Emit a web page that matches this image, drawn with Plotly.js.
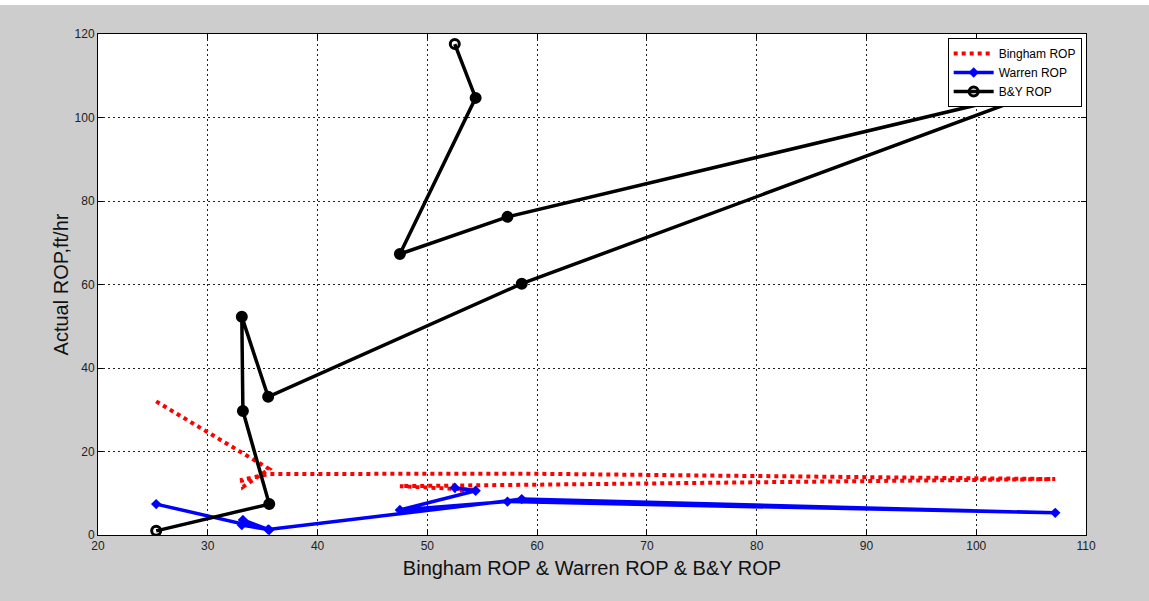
<!DOCTYPE html>
<html>
<head>
<meta charset="utf-8">
<script src="https://cdn.plot.ly/plotly-3.0.1.min.js"></script>
<style>
  html, body { margin: 0; padding: 0; background: #cdcdcd; }
  #chart { width: 1149px; height: 601px; }
</style>
</head>
<body>
<div id="chart"></div>
<script>
// Predicted ROP (shared abscissa) for each run, in plotting order
const predictedROP = [25.3, 35.6, 33.2, 33.1, 35.5, 58.6, 107.2, 57.3, 47.5, 54.4, 52.5];

// Model ROP values, ft/hr
const binghamROP = [32.0, 15.8, 11.5, 13.2, 14.6, 14.7, 13.4, 11.8, 11.7, 10.8, 10.6];
const warrenROP  = [7.4, 1.2, 3.6, 2.4, 1.3, 8.6, 5.3, 8.0, 6.0, 10.6, 11.3];
const byROP      = [1.0, 7.4, 29.7, 52.3, 33.1, 60.2, 107.5, 76.2, 67.3, 104.7, 117.6];

// Axis ticks
const xTicks = [20, 30, 40, 50, 60, 70, 80, 90, 100, 110];
const yTicks = [0, 20, 40, 60, 80, 100, 120];

// End points of the B&Y path are drawn as rings, interior points as dots
const bySymbols = byROP.map((v, i) => (i === 0 || i === byROP.length - 1) ? 'circle-open' : 'circle');

const traces = [
  {
    x: predictedROP, y: binghamROP, name: 'Bingham ROP',
    mode: 'lines', type: 'scatter',
    line: { color: '#ff0000', width: 4, dash: '4px,4px' }
  },
  {
    x: predictedROP, y: warrenROP, name: 'Warren ROP',
    mode: 'lines+markers', type: 'scatter',
    line: { color: '#0000ff', width: 3.5 },
    marker: { symbol: 'diamond', size: 8, color: '#0000ff' }
  },
  {
    x: predictedROP, y: byROP, name: 'B&Y ROP',
    mode: 'lines+markers', type: 'scatter',
    line: { color: '#000000', width: 3.5 },
    marker: { symbol: bySymbols, size: 9, color: '#000000', line: { width: 3, color: '#000000' } }
  }
];

const axisCommon = {
  showline: true, linecolor: '#000000', linewidth: 1, mirror: 'ticks',
  ticks: 'inside', ticklen: 5, tickcolor: '#000000',
  showgrid: true, gridcolor: '#222222', gridwidth: 1, griddash: '2px,3px',
  zeroline: false,
  tickfont: { family: 'Liberation Sans, Arial, sans-serif', size: 12, color: '#222222' }
};

const layout = {
  width: 1149, height: 601,
  paper_bgcolor: '#cdcdcd', plot_bgcolor: '#ffffff',
  margin: { l: 98, r: 63, t: 34, b: 66 },
  showlegend: true,
  xaxis: Object.assign({}, axisCommon, {
    range: [20, 110], tickmode: 'array', tickvals: xTicks, ticktext: xTicks.map(String),
    title: { text: 'Bingham ROP & Warren ROP & B&Y ROP', standoff: 8,
             font: { family: 'Liberation Sans, Arial, sans-serif', size: 20, color: '#111111' } }
  }),
  yaxis: Object.assign({}, axisCommon, {
    range: [0, 120], tickmode: 'array', tickvals: yTicks, ticktext: yTicks.map(String),
    title: { text: 'Actual ROP,ft/hr', standoff: 0,
             font: { family: 'Liberation Sans, Arial, sans-serif', size: 20, color: '#111111' } }
  }),
  legend: {
    x: 0.860, y: 0.992, xanchor: 'left', yanchor: 'top',
    bgcolor: '#ffffff', bordercolor: '#000000', borderwidth: 1,
    font: { family: 'Liberation Sans, Arial, sans-serif', size: 12, color: '#000000' },
    itemwidth: 40, tracegroupgap: 0
  },
  shapes: [
    { type: 'rect', xref: 'paper', yref: 'paper', x0: -0.2, x1: 1.2,
      y0: 1 + 29 / 501, y1: 1 + 40 / 501, fillcolor: '#ffffff', line: { width: 0 }, layer: 'above' }
  ]
};

Plotly.newPlot('chart', traces, layout, { displayModeBar: false, staticPlot: true });
</script>
</body>
</html>
